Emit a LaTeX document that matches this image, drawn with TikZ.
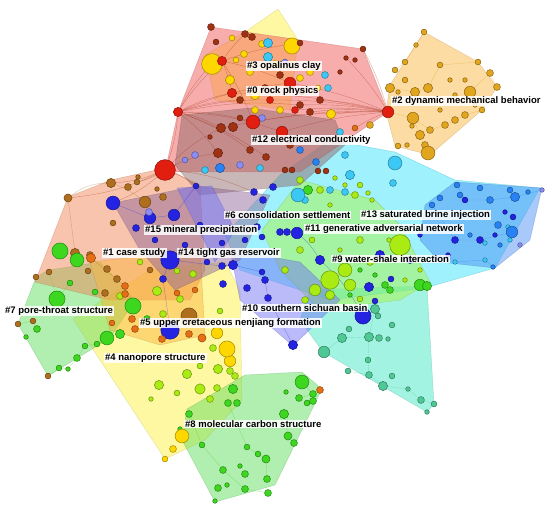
\documentclass[tikz,border=0pt]{standalone}
\usepackage{fontspec}
\setmainfont{Liberation Sans}
\definecolor{cRB}{RGB}{160,50,20}
\definecolor{cRD}{RGB}{225,30,15}
\definecolor{cYL}{RGB}{255,215,0}
\definecolor{cGO}{RGB}{225,165,30}
\definecolor{cBL}{RGB}{35,35,225}
\definecolor{cLB}{RGB}{40,130,245}
\definecolor{cCY}{RGB}{60,200,245}
\definecolor{cGR}{RGB}{60,215,30}
\definecolor{cLG}{RGB}{170,235,20}
\definecolor{cTQ}{RGB}{80,200,150}
\definecolor{cOL}{RGB}{175,110,30}
\definecolor{cOG}{RGB}{230,110,20}
\definecolor{cPU}{RGB}{140,140,245}
\definecolor{pRed}{RGB}{240,80,80}
\definecolor{pYel}{RGB}{255,240,60}
\definecolor{pOra}{RGB}{250,180,60}
\definecolor{pCya}{RGB}{50,225,250}
\definecolor{pBlu}{RGB}{70,140,245}
\definecolor{pTur}{RGB}{60,230,195}
\definecolor{pGrn}{RGB}{90,220,90}
\definecolor{pLim}{RGB}{170,245,60}
\definecolor{pPer}{RGB}{110,110,245}
\definecolor{pSal}{RGB}{240,130,80}
\definecolor{pGry}{RGB}{140,100,100}
\definecolor{pMau}{RGB}{140,100,150}
\tikzset{
  hull/.style={fill=#1, fill opacity=0.47, draw=#1!70!black, draw opacity=0.35, line width=0.4pt},
  link/.style={draw=#1, draw opacity=0.45, line width=0.35pt},
  dot/.style={fill=#1, draw=#1!65!black, line width=0.55pt},
  lab/.style={fill=white, fill opacity=0.85, text opacity=1, inner sep=1pt, anchor=west,
    font=\fontsize{9.5}{11}\selectfont\bfseries}
}
\begin{document}
\begin{tikzpicture}[x=1pt,y=-1pt]
\useasboundingbox (0,0) rectangle (550,511);
% ---------- cluster hulls ----------
\draw[hull=pYel] (73,319) -- (150,270) -- (225,262) -- (240,290) -- (242,400) -- (205,440) -- (165,459) -- cycle;
\draw[hull=pGrn] (187,409) -- (245,375) -- (302,372) -- (322,389) -- (275,485) -- (215,502) -- (182,440) -- cycle;
\draw[hull=pGrn] (36,277) -- (49,270) -- (100,262) -- (135,300) -- (110,338) -- (48,376) -- (18,324) -- cycle;
\draw[hull=pTur] (323,352) -- (300,320) -- (310,290) -- (427,286) -- (434,404) -- (427,412) -- cycle;
\draw[hull=pCya] (280,175) -- (330,140) -- (395,152) -- (455,180) -- (540,188) -- (495,268) -- (425,288) -- (330,300) -- (240,270) -- (225,235) -- cycle;
\draw[hull=pBlu] (425,205) -- (455,182) -- (542,188) -- (530,240) -- (495,268) -- (440,262) -- (420,240) -- cycle;
\draw[hull=pLim] (300,180) -- (375,200) -- (400,225) -- (430,282) -- (400,300) -- (320,310) -- (280,270) -- (262,230) -- cycle;
\draw[hull=pPer] (230,250) -- (300,262) -- (340,300) -- (293,346) -- (240,300) -- cycle;
\draw[hull=pSal] (68,197) -- (111,180) -- (165,168) -- (200,185) -- (205,270) -- (190,300) -- (110,300) -- (35,282) -- cycle;
\draw[hull=pOra] (90,262) -- (200,250) -- (205,335) -- (160,345) -- (110,330) -- cycle;
\draw[hull=pYel] (278,9) -- (298,40) -- (290,110) -- (215,100) -- (205,55) -- (245,32) -- cycle;
\draw[hull=pRed] (211,27) -- (363,49) -- (388,112) -- (300,172) -- (165,172) -- (178,112) -- cycle;
\draw[hull=pGry] (182,115) -- (250,108) -- (335,120) -- (345,145) -- (300,185) -- (200,195) -- (175,165) -- cycle;
\draw[hull=pMau] (113,203) -- (196,186) -- (270,195) -- (240,260) -- (175,290) -- (140,250) -- cycle;
\draw[hull=pPer] (177,188) -- (212,186) -- (235,230) -- (215,262) -- cycle;
\draw[hull=pOra] (424,32) -- (478,62) -- (497,87) -- (482,110) -- (430,155) -- (395,146) -- (386,112) -- (390,85) -- cycle;
% ---------- links ----------
\foreach \a/\b in {253/122,232/93,221/128,218/153,282/132,290/83,212/64,222/61,165/170,250/150,300/105,266/157,270/100,240/100}
  \draw[link=cRB] (178,112) to[bend left=8] (\a,\b);
\foreach \a/\b in {282/132,290/83,320/100,330/115,300/105,253/122,355/128,363/49,346/58,310/112,232/93,221/128,270/100,295/110}
  \draw[link=cRB] (388,112) to[bend right=6] (\a,\b);
\foreach \a/\b in {218/153,111/183,68/198,113/203,196/186,253/192,137/182,221/128}
  \draw[link=cRB] (165,170) to[bend left=10] (\a,\b);
\foreach \a/\b in {232/93,290/83,253/122,245/34,300/43}
  \draw[link=cRB] (222,61) to[bend left=6] (\a,\b);
\draw[link=cGO] (424,32) -- (416,45) -- (405,62) -- (395,70);
\draw[link=cGO] (390,88) -- (415,92) -- (428,88) -- (440,65) -- (478,62);
\draw[link=cGO] (470,92) -- (490,73) -- (497,87);
\draw[link=cGO] (413,118) -- (420,135) -- (428,153);
\draw[link=cGO] (388,112) -- (413,118) -- (430,130) -- (445,125) -- (465,115) -- (482,110);
\draw[link=cTQ] (324,352) -- (342,338) -- (369,337) -- (379,338);
\draw[link=cTQ] (368,360) -- (369,375) -- (383,386) -- (408,389) -- (421,400) -- (434,404);
\draw[link=cTQ] (348,371) -- (369,375) (369,337) -- (368,360) (375,309) -- (369,337);
\draw[link=cGR] (189,414) -- (202,445) -- (223,470) -- (245,489) -- (268,493);
\draw[link=cGR] (247,447) -- (258,454) -- (266,459) -- (267,479);
\draw[link=cGR] (302,382) -- (313,394) -- (299,398) (228,403) -- (247,447) (284,414) -- (288,436) -- (294,443);
\draw[link=cGR] (18,324) -- (33,321) -- (37,329);
\draw[link=cGR] (48,376) -- (59,368) -- (68,369) -- (77,358) -- (85,346) -- (97,344) -- (107,338);
\draw[link=cGR] (49,272) -- (57,299) -- (70,283);
\draw[link=cLB] (457,185) -- (465,200) -- (490,200) -- (515,197) -- (542,190);
\draw[link=cLB] (432,205) -- (455,240) -- (480,240) -- (512,232);
\draw[link=cLB] (448,255) -- (455,262) -- (485,260) -- (493,267);
\draw[link=cBL] (170,260) -- (222,266) -- (233,265) -- (262,272) -- (265,280) -- (268,298) -- (293,345);
\draw[link=cBL] (113,203) -- (150,218) -- (174,215) -- (196,186);
\draw[link=cBL] (170,260) -- (163,279) -- (170,330);
\draw[link=cBL] (297,233) to[bend left=10] (320,260) to[bend left=10] (363,316);
\draw[link=cOL] (68,198) to[bend left=20] (111,183) to[bend left=10] (145,202);
\draw[link=cOL] (68,198) -- (75,253) (91,258) -- (125,286) -- (133,306);
\draw[link=cLG] (308,190) -- (355,195) -- (372,200) (330,280) -- (345,270) -- (380,255) -- (400,245);
% ---------- nodes: red / yellow top ----------
\foreach \x/\y/\r/\c in {
 211/27/3/cRB, 216/42/2.5/cRB, 245/34/3/cRB, 252/37/3/cRB, 232/38/2.5/cYL, 262/44/3/cYL,
 268/43/4/cCY, 268/57/4/cCY, 292/46/7/cYL, 300/43/2.5/cRB, 212/64/9/cYL, 222/61/4/cRD,
 236/60/2.5/cYL, 244/54/3/cYL, 230/80/4/cYL, 232/93/4/cRD, 250/72/3/cYL, 255/95/4/cYL,
 240/100/3/cRB, 265/88/3/cRB, 290/83/5/cRD, 280/75/3/cRB, 300/78/3/cYL, 310/72/3/cYL,
 325/75/3/cCY, 328/88/3/cCY, 320/100/3/cRB, 300/105/3/cRB, 310/112/3/cRB, 295/110/3/cRD,
 331/114/4/cYL, 280/110/3/cYL, 270/100/3/cRD, 255/110/3/cYL, 262/118/3/cPU, 346/58/2/cRB,
 355/60/2/cRB, 340/72/2/cRB, 363/49/2.5/cRB, 178/112/4/cRD, 221/128/4/cRB, 233/127/4/cRB,
 253/122/6/cRD, 282/132/5/cRD, 218/153/4/cRB, 210/137/2/cRB, 165/170/9/cRD, 250/150/3/cRB,
 266/157/3/cRB, 290/145/3/cRB, 300/150/3/cLB, 195/155/3/cPU, 185/160/2.5/cPU, 205/170/3/cCY,
 220/168/4/cLB, 240/165/3/cPU, 260/168/3/cCY, 285/170/2.5/cRB, 292/170/2.5/cRB, 318/171/2.5/cRB,
 316/162/3/cLB, 326/171/2.5/cRB, 345/155/3/cCY, 340/132/3/cCY, 388/112/5/cRD, 355/128/2.5/cOG,
 370/125/3/cGO, 240/118/2.5/cRB, 275/64/3/cYL, 285/62/2.5/cPU, 318/88/2.5/cYL, 302/92/2.5/cRB}
  \filldraw[dot=\c] (\x,\y) circle (\r*1.15 pt);
% ---------- orange #2 ----------
\foreach \x/\y/\r in {424/32/2.5, 416/45/2, 405/62/2.5, 395/70/2.5, 405/80/2.5, 390/88/4,
 415/92/4, 428/88/4, 440/65/2.5, 450/80/2, 478/62/2.5, 490/73/3, 497/87/3, 482/110/2.5,
 470/92/5, 475/105/2, 455/95/2, 465/80/2, 413/118/5, 420/135/4, 425/145/3, 430/130/3,
 445/125/3, 455/120/3, 465/115/3, 428/153/6, 398/146/2.5, 407/145/2, 412/126/2, 440/110/2, 398/92/2}
  \filldraw[dot=cGO] (\x,\y) circle (\r*1.15 pt);
% ---------- right blue / cyan ----------
\foreach \x/\y/\r/\c in {
 395/163/6/cCY, 393/183/3/cCY, 350/175/4/cCY, 345/192/3/cCY, 330/190/3/cCY, 457/185/2.5/cLB,
 460/195/2.5/cLB, 432/205/2.5/cLB, 440/198/2.5/cLB, 465/200/2.5/cBL, 480/188/2.5/cLB, 490/200/3/cLB,
 510/190/2.5/cLB, 515/197/4/cLB, 528/192/2/cLB, 542/190/2/cPU, 505/212/2/cBL, 513/217/2.5/cBL,
 498/225/3/cLB, 508/227/2/cCY, 512/232/5/cLB, 495/235/2/cBL, 480/240/3/cBL, 485/243/2/cCY,
 500/245/2/cLB, 455/240/3/cBL, 470/235/2/cLB, 448/255/2/cBL, 435/258/2/cLB, 455/262/2/cCY,
 485/260/2/cCY, 493/267/2/cLB, 520/245/2/cPU, 510/240/2/cCY, 475/215/2/cCY, 420/235/2/cBL, 410/260/3/cBL}
  \filldraw[dot=\c] (\x,\y) circle (\r*1.15 pt);
% ---------- lime / green middle ----------
\foreach \x/\y/\r/\c in {
 300/180/3/cLG, 308/190/4/cGR, 320/190/3/cLG, 335/178/2/cLG, 345/185/2/cLG, 355/195/3/cLG,
 360/185/2.5/cLG, 368/193/2/cLG, 372/200/2/cLG, 330/205/2/cLG, 305/200/3/cCY, 298/195/6/cCY,
 400/245/9/cLG, 380/255/4/cBL, 370/262/3/cLG, 345/270/6/cLG, 330/280/8/cLG, 350/285/5/cLG,
 315/290/5/cLG, 330/295/4/cLG, 305/300/3/cLG, 320/260/4/cBL, 340/250/2/cLG, 360/240/3/cLG,
 389/240/2/cLG, 375/275/2/cGR, 405/280/2/cLG, 420/285/5/cGR, 390/290/3/cGR, 369/287/4/cBL,
 375/301/2.5/cBL, 391/279/2.5/cBL, 350/295/2/cGR, 360/270/2/cGR, 420/270/2/cLG, 297/233/5/cBL,
 287/232/3/cBL, 312/240/2.5/cLG, 300/250/3/cLG, 285/270/3/cLG}
  \filldraw[dot=\c] (\x,\y) circle (\r*1.15 pt);
% ---------- blue center ----------
\foreach \x/\y/\r in {113/203/6, 150/218/5, 174/215/5, 136/228/3, 170/260/8, 163/279/3,
 196/186/2.5, 254/192/3, 263/200/3, 273/187/3, 233/265/4, 222/266/3, 257/227/3, 262/237/2.5,
 280/232/3, 265/280/3, 262/272/2.5, 268/298/3, 247/288/3, 223/284/3, 293/345/4, 170/330/8,
 207/262/2.5, 222/243/2.5, 363/316/7, 245/240/2.5, 155/240/2.5, 185/245/2.5, 200/225/2.5}
  \filldraw[dot=cBL] (\x,\y) circle (\r*1.15 pt);
% ---------- turquoise bottom ----------
\foreach \x/\y/\r/\c in {324/352/5/cTQ, 342/338/4/cTQ, 349/329/2.5/cTQ, 369/337/4/cTQ, 379/338/3/cTQ,
 388/339/2/cTQ, 392/325/2.5/cTQ, 368/360/2.5/cTQ, 348/371/2.5/cTQ, 369/375/3/cTQ, 392/376/2.5/cTQ,
 383/386/4/cTQ, 408/389/2/cTQ, 421/400/3/cTQ, 434/404/2.5/cTQ, 427/412/2/cTQ, 427/286/4/cGR,
 385/285/3/cGR, 378/316/2.5/cTQ, 375/309/4/cTQ, 360/299/2.5/cLG}
  \filldraw[dot=\c] (\x,\y) circle (\r*1.15 pt);
% ---------- green #8 / yellow #4 ----------
\foreach \x/\y/\r/\c in {302/382/6/cGR, 320/390/3/cOG, 313/394/3/cGR, 299/398/3/cGR, 307/403/2.5/cGR,
 313/401/3/cGR, 286/392/2/cGR, 284/414/4/cGR, 288/436/3.5/cGR, 294/443/3/cGR, 189/414/3/cGR,
 180/429/2/cGR, 182/436/6/cYL, 173/449/3/cYL, 165/459/2.5/cYL, 202/445/2.5/cGR, 247/447/2.5/cGR,
 223/470/3/cGR, 240/466/2/cGR, 245/474/3/cGR, 258/454/2.5/cGR, 266/459/3.5/cGR, 267/479/3/cGR,
 268/493/3/cGR, 245/489/3/cGR, 227/485/2/cGR, 218/488/3/cGR, 215/501/2/cGR, 228/403/3/cGR,
 237/403/3/cGR, 159/385/4/cLG, 177/393/2.5/cLG, 187/374/4/cLG, 200/389/4.5/cLG, 210/399/3/cLG,
 217/388/3/cLG, 218/369/4/cLG, 230/371/3/cLG, 233/389/4/cGR, 235/376/3/cLG, 230/361/5/cYL,
 227/349/7/cYL, 217/333/5/cYL, 213/348/3/cLG, 200/366/2.5/cLG, 151/399/2/cLG, 220/311/2.5/cLG,
 207/323/3/cYL}
  \filldraw[dot=\c] (\x,\y) circle (\r*1.15 pt);
% ---------- left clusters ----------
\foreach \x/\y/\r/\c in {18/324/2.5/cOL, 33/321/2.5/cOL, 37/329/3/cGR, 26/337/2/cGR, 48/376/2.5/cOL,
 59/368/2.5/cGR, 68/369/2/cGR, 77/358/3/cGR, 85/346/2.5/cGR, 97/344/2.5/cGR, 107/338/6/cGR,
 57/299/7/cGR, 49/272/2.5/cOL, 36/277/2.5/cOL, 70/283/2.5/cGR, 68/198/3.5/cOL, 111/183/4/cOL,
 128/187/3/cOL, 137/182/2.5/cOL, 138/177/2/cOL, 145/202/5/cOL, 163/197/3/cOL, 157/189/2/cOL,
 113/223/2.5/cOL, 60/251/7/cGR, 75/253/4/cOL, 90/255/3/cOL, 149/212/3/cPU, 77/260/6/cGR,
 91/258/4/cOG, 88/271/2.5/cOL, 107/269/3/cOL, 117/279/3/cOL, 105/293/3/cOL, 125/286/3/cOG,
 95/292/2.5/cGR, 133/306/7/cGR, 120/296/3/cLG, 125/294/3/cOG, 135/329/3/cOG, 132/319/3/cOG,
 112/323/2.5/cOG, 120/334/4/cGR, 147/319/3/cGR, 162/339/3/cOG, 189/316/7/cOL, 202/338/3.5/cOG,
 189/334/3/cOG, 180/299/3/cLG, 177/293/2.5/cOG, 157/291/4/cLG, 163/314/3/cLG, 193/274/3/cLG,
 177/271/2.5/cLG, 150/270/2.5/cOL, 140/262/2.5/cLG, 195/290/2.5/cOG}
  \filldraw[dot=\c] (\x,\y) circle (\r*1.15 pt);
% ---------- labels ----------
\node[lab] (l3)  at (246,66)  {\#3 opalinus clay};
\node[lab] (l0)  at (246,91)  {\#0 rock physics};
\node[lab] (l12) at (251,140) {\#12 electrical conductivity};
\node[lab] (l2)  at (391,101) {\#2 dynamic mechanical behavior};
\node[lab] (l6)  at (224,215) {\#6 consolidation settlement};
\node[lab] (l13) at (360,215) {\#13 saturated brine injection};
\node[lab] (l11) at (304,229) {\#11 generative adversarial network};
\node[lab] (l15) at (144,230) {\#15 mineral precipitation};
\node[lab] (l1)  at (102,253) {\#1 case study};
\node[lab] (l14) at (177,253) {\#14 tight gas reservoir};
\node[lab] (l9)  at (331,259) {\#9 water-shale interaction};
\node[lab] (l10) at (241,308) {\#10 southern sichuan basin};
\node[lab] (l5)  at (139,323) {\#5 upper cretaceous nenjiang formation};
\node[lab] (l7)  at (4,311)   {\#7 pore-throat structure};
\node[lab] (l4)  at (104,358) {\#4 nanopore structure};
\node[lab] (l8)  at (184,424) {\#8 molecular carbon structure};
\end{tikzpicture}
\end{document}
